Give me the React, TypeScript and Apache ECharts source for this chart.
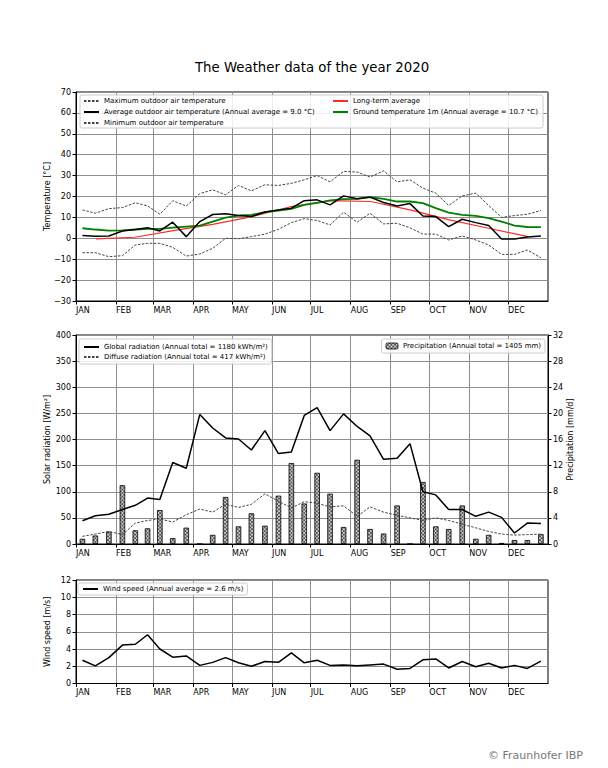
import React, { useEffect, useRef } from 'react';
import * as echarts from 'echarts';

const FONT = 'DejaVu Sans';

const MONTHS = ['JAN', 'FEB', 'MAR', 'APR', 'MAY', 'JUN', 'JUL', 'AUG', 'SEP', 'OCT', 'NOV', 'DEC'];
const MONTH_DAYS = [31, 29, 31, 30, 31, 30, 31, 31, 30, 31, 30, 31];

// 10-day periods (3 per month)
const maxTemp = [13.6, 12.0, 14.2, 14.7, 17.0, 15.5, 11.5, 18.0, 15.4, 21.4, 23.2, 20.8,
  25.3, 22.7, 25.6, 25.3, 26.3, 28.0, 30.0, 27.0, 32.0, 31.7, 29.3, 32.3,
  27.0, 28.0, 24.0, 21.6, 15.7, 20.3, 21.6, 15.7, 10.0, 10.9, 11.5, 13.3];
const avgTemp = [1.3, 1.0, 1.1, 3.5, 4.2, 5.1, 3.5, 7.7, 0.8, 8.0, 11.4, 11.8,
  10.9, 10.4, 12.6, 13.6, 14.4, 18.0, 18.4, 16.0, 20.3, 18.9, 19.7, 17.1,
  15.5, 16.6, 10.7, 10.4, 5.6, 9.1, 7.5, 6.1, -0.3, -0.3, 0.6, 1.1];
const minTemp = [-6.9, -6.9, -8.8, -8.3, -3.2, -2.4, -2.4, -4.3, -8.5, -7.5, -4.8, 0.0,
  -0.2, 0.8, 2.0, 4.3, 7.5, 9.4, 8.5, 6.4, 12.5, 7.7, 12.0, 6.9,
  7.2, 5.0, 2.0, 2.0, -0.8, 1.1, -0.8, -3.2, -7.7, -7.7, -5.6, -9.3];
const groundTemp = [4.8, 4.2, 3.7, 3.8, 4.2, 4.5, 4.5, 5.1, 5.6, 6.1, 8.0, 9.9,
  10.9, 11.2, 12.5, 13.3, 14.1, 16.0, 17.0, 18.1, 18.7, 18.9, 19.7, 18.9,
  17.6, 17.6, 16.8, 14.4, 12.3, 11.2, 10.7, 9.6, 8.0, 6.1, 5.4, 5.3];
// monthly
const longTermAvg = [-0.3, 0.5, 3.7, 6.7, 10.4, 15.2, 18.0, 17.6, 13.6, 8.8, 4.8, 0.8];

const globalRad = [44.6, 54, 57, 66, 74, 88, 85, 156, 145, 248, 222, 203,
  201, 180, 217, 173, 176, 246, 261, 217, 249, 225, 207, 162,
  164, 192, 100, 94, 66, 66, 53, 61, 51, 21, 40, 39];
const diffuseRad = [14.6, 19, 24, 18, 40, 45, 48, 42, 56, 67, 61, 76,
  70, 76, 96, 82, 69, 81, 78, 71, 73, 53, 71, 61,
  55, 50, 45, 50, 45, 38, 31, 24, 19, 17, 18, 19];
const precip = [0.8, 1.3, 1.9, 9.0, 2.1, 2.4, 5.2, 0.9, 2.5, 0, 1.4, 7.2,
  2.7, 4.7, 2.8, 7.4, 12.4, 6.2, 10.9, 7.7, 2.6, 12.9, 2.3, 1.6,
  5.9, 0, 9.5, 2.7, 2.3, 5.9, 0.8, 1.4, 0.15, 0.6, 0.6, 1.5];
const windSpeed = [2.7, 2.05, 3.0, 4.45, 4.55, 5.65, 4.0, 3.05, 3.2, 2.1, 2.45, 3.0,
  2.4, 2.0, 2.55, 2.45, 3.55, 2.4, 2.7, 2.1, 2.15, 2.05, 2.15, 2.25,
  1.65, 1.75, 2.75, 2.85, 1.8, 2.55, 1.95, 2.35, 1.8, 2.1, 1.75, 2.6];

const N_MAX = 'Maximum outdoor air temperature';
const N_AVG = 'Average outdoor air temperature (Annual average = 9.0 °C)';
const N_MIN = 'Minimum outdoor air temperature';
const N_LT = 'Long-term average';
const N_GR = 'Ground temperature 1m (Annual average = 10.7 °C)';
const N_GLOB = 'Global radiation (Annual total = 1180 kWh/m²)';
const N_DIFF = 'Diffuse radiation (Annual total = 417 kWh/m²)';
const N_PREC = 'Precipitation (Annual total = 1405 mm)';
const N_WIND = 'Wind speed (Annual average = 2.6 m/s)';

const monthStarts: number[] = [];
const decadeDays: number[] = [];
const midMonths: number[] = [];
{
  let s = 0;
  MONTH_DAYS.forEach((L) => {
    monthStarts.push(s);
    decadeDays.push(s + 5, s + 15, s + (20 + L) / 2);
    midMonths.push(s + L / 2);
    s += L;
  });
}

const pairs = (xs: number[], vals: number[]) => xs.map((x, i) => [x, vals[i]]);

function makeHatch(): any {
  const S = 12;
  const c = document.createElement('canvas');
  c.width = S; c.height = S;
  const ctx = c.getContext('2d')!;
  ctx.fillStyle = '#fff';
  ctx.fillRect(0, 0, S, S);
  ctx.strokeStyle = '#1a1a1a';
  ctx.lineWidth = 2.5;
  for (const o of [-S, 0, S]) {
    ctx.beginPath(); ctx.moveTo(o - 2, -2); ctx.lineTo(o + S + 2, S + 2); ctx.stroke();
    ctx.beginPath(); ctx.moveTo(o + S + 2, -2); ctx.lineTo(o - 2, S + 2); ctx.stroke();
  }
  return { image: c, repeat: 'repeat', imageWidth: S, imageHeight: S, scaleX: 0.3, scaleY: 0.3 };
}

export default function App() {
  const ref = useRef<HTMLDivElement>(null);
  useEffect(() => {
    if (!ref.current) return;
    const chart = echarts.init(ref.current, null, { renderer: 'svg' });
    const hatch = makeHatch();
    const tick = { fontSize: 8, color: '#000', fontFamily: FONT };
    const minus = (v: number) => String(v).replace('-', '\u2212');
    const gridLine = { show: true, lineStyle: { color: '#8e8e8e', width: 1 } };
    const xAxis = (gi: number) => ({
      type: 'value', gridIndex: gi, min: 0, max: 366,
      axisLine: { show: true, onZero: false, lineStyle: { color: '#000', width: 1 } },
      axisTick: { show: true, customValues: monthStarts, length: 3.5, lineStyle: { color: '#000' } },
      axisLabel: {
        ...tick, customValues: monthStarts, align: 'left', margin: 5,
        formatter: (v: number) => MONTHS[monthStarts.indexOf(v)] ?? '',
      },
      splitLine: gridLine,
    });
    const yAxis = (gi: number, min: number, max: number, interval: number, name: string, extra: any = {}) => ({
      type: 'value', gridIndex: gi, min, max, interval, name,
      nameLocation: 'middle', nameRotate: 90, nameGap: 25, nameMoveOverlap: false,
      nameTextStyle: { fontSize: 8, color: '#000', fontFamily: FONT },
      axisLine: { show: true, onZero: false, lineStyle: { color: '#000', width: 1 } },
      axisTick: { show: true, length: 3.5, lineStyle: { color: '#000' } },
      axisLabel: { ...tick, margin: 5, formatter: minus },
      splitLine: gridLine,
      ...extra,
    });
    const legText = { fontSize: 7, color: '#000', fontFamily: FONT, lineHeight: 8 };
    const lineLeg = { itemWidth: 15, itemHeight: 7, textStyle: legText, itemStyle: { opacity: 0 } };
    const box = { backgroundColor: 'rgba(255,255,255,0.85)', borderColor: '#ccc', borderWidth: 1, borderRadius: 2 };
    const dashed = { color: '#444', width: 1, type: [2.5, 1.5] };
    const grid = { show: true, borderColor: '#000', borderWidth: 1, backgroundColor: 'transparent' };

    const option: any = {
      animation: false,
      textStyle: { fontFamily: FONT },
      title: {
        text: 'The Weather data of the year 2020', left: 195, top: 61, padding: 0,
        textStyle: { fontSize: 13.3, fontWeight: 'normal', color: '#000', fontFamily: FONT },
      },
      grid: [
        { ...grid, left: 76, top: 92, width: 472, height: 209 },
        { ...grid, left: 76, top: 335, width: 472, height: 209 },
        { ...grid, left: 76, top: 580, width: 472, height: 103.5 },
      ],
      xAxis: [xAxis(0), xAxis(1), xAxis(2)],
      yAxis: [
        yAxis(0, -30, 70, 10, 'Temperature [°C]'),
        yAxis(1, 0, 400, 50, 'Solar radiation [W/m²]'),
        yAxis(1, 0, 32, 4, 'Precipitation [mm/d]', { position: 'right', nameGap: 18, splitLine: { show: false } }),
        yAxis(2, 0, 12, 2, 'Wind speed [m/s]'),
      ],
      legend: [
        { ...lineLeg, data: [N_MAX, N_AVG, N_MIN], orient: 'vertical', left: 83, top: 97, padding: 0, itemGap: 3, z: 5 },
        { ...lineLeg, data: [N_LT, N_GR], orient: 'vertical', left: 332, top: 97, padding: 0, itemGap: 3, z: 5 },
        { ...lineLeg, ...box, data: [N_GLOB, N_DIFF], orient: 'vertical', left: 79, top: 339, padding: [4, 4, 3, 4], itemGap: 2 },
        {
          ...box, data: [N_PREC], orient: 'vertical', right: 63, top: 339, padding: [3, 4, 3, 4], itemWidth: 12, itemHeight: 6,
          textStyle: legText, itemStyle: { borderWidth: 0.8, borderColor: '#000' },
        },
        { ...lineLeg, ...box, data: [N_WIND], orient: 'horizontal', left: 78, top: 583, padding: [2, 4, 2, 4] },
      ],
      graphic: [
        {
          type: 'rect', z: 3, shape: { x: 80, y: 95, width: 463, height: 33, r: 2 },
          style: { fill: 'rgba(255,255,255,0.85)', stroke: '#ccc', lineWidth: 1 },
        },
        {
          type: 'text', z: 5,
          style: { text: '© Fraunhofer IBP', x: 583, y: 755, align: 'right', verticalAlign: 'middle', fontSize: 11, fill: '#777', fontFamily: FONT },
        },
      ],
      series: [
        { name: N_MAX, type: 'line', xAxisIndex: 0, yAxisIndex: 0, symbol: 'none', data: pairs(decadeDays, maxTemp), lineStyle: dashed, itemStyle: { color: '#444' }, z: 2 },
        { name: N_AVG, type: 'line', xAxisIndex: 0, yAxisIndex: 0, symbol: 'none', data: pairs(decadeDays, avgTemp), lineStyle: { color: '#000', width: 1.5 }, itemStyle: { color: '#000' }, z: 3 },
        { name: N_MIN, type: 'line', xAxisIndex: 0, yAxisIndex: 0, symbol: 'none', data: pairs(decadeDays, minTemp), lineStyle: dashed, itemStyle: { color: '#444' }, z: 2 },
        { name: N_LT, type: 'line', xAxisIndex: 0, yAxisIndex: 0, symbol: 'none', data: pairs(midMonths, longTermAvg), lineStyle: { color: '#ff2a2a', width: 1.2 }, itemStyle: { color: '#ff2a2a' }, z: 2 },
        { name: N_GR, type: 'line', xAxisIndex: 0, yAxisIndex: 0, symbol: 'none', data: pairs(decadeDays, groundTemp), lineStyle: { color: '#008000', width: 1.8 }, itemStyle: { color: '#008000' }, z: 2 },
        {
          name: N_PREC, type: 'bar', xAxisIndex: 1, yAxisIndex: 2, barWidth: 5.5, data: pairs(decadeDays, precip), z: 1,
          itemStyle: { color: hatch, borderColor: '#000', borderWidth: 0.8 },
        },
        { name: N_GLOB, type: 'line', xAxisIndex: 1, yAxisIndex: 1, symbol: 'none', data: pairs(decadeDays, globalRad), lineStyle: { color: '#000', width: 1.5 }, itemStyle: { color: '#000' }, z: 3 },
        { name: N_DIFF, type: 'line', xAxisIndex: 1, yAxisIndex: 1, symbol: 'none', data: pairs(decadeDays, diffuseRad), lineStyle: dashed, itemStyle: { color: '#444' }, z: 3 },
        { name: N_WIND, type: 'line', xAxisIndex: 2, yAxisIndex: 3, symbol: 'none', data: pairs(decadeDays, windSpeed), lineStyle: { color: '#000', width: 1.5 }, itemStyle: { color: '#000' }, z: 3 },
      ],
    };
    chart.setOption(option);
    return () => chart.dispose();
  }, []);
  return <div ref={ref} style={{ position: 'fixed', left: 0, top: 0, width: 608, height: 768, background: '#fff' }} />;
}
